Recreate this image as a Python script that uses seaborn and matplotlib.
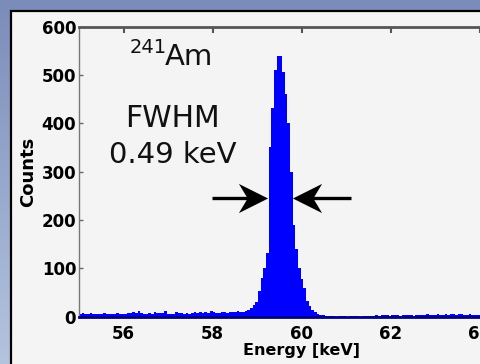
import numpy as np
import pandas as pd
import matplotlib
matplotlib.use("Agg")
import matplotlib.pyplot as plt
import seaborn as sns
from matplotlib.patches import Rectangle
from matplotlib.path import Path

# ---------------- data ----------------
energy_start_keV = 55.0
bin_width_keV = 0.06
counts_left = [6, 7, 6, 5, 7, 6, 6, 5, 6, 7,
               6, 5, 6, 6, 7, 6, 5, 6, 8, 7,
               9, 8, 12, 7, 6, 5, 7, 6, 9, 8,
               7, 8, 11, 6, 5, 6, 9, 7, 8, 6,
               7, 6, 8, 9, 7, 10, 8, 9, 8, 11,
               9, 8, 7, 9, 10, 8, 9, 10, 9, 11, 10]
counts_peak = [10, 12, 14, 17, 24, 31, 52, 80, 100, 131,
               351, 431, 510, 539, 539, 506, 461, 400, 300, 190,
               140, 100, 78, 58, 32, 22, 14, 10, 6, 4]
counts_right = [3, 2, 1, 2, 1, 0, 1, 2, 1, 0, 1, 2, 1, 1, 0, 2, 1, 2, 1,
                2, 3, 2, 3, 4, 3, 2, 3, 4, 3, 2, 3, 3, 4, 3, 2, 4, 3, 3, 4,
                5, 4, 3, 4, 5, 4, 3, 5, 4, 6, 5, 4, 6, 5, 4, 3, 5, 4, 3, 4,
                5, 4, 3, 4, 5]
counts = counts_left + counts_peak + counts_right
n_bins = len(counts)
bin_centers = energy_start_keV + bin_width_keV * (np.arange(n_bins) + 0.5)
df = pd.DataFrame({'energy': bin_centers, 'counts': np.asarray(counts, dtype=float)})

x_ticks = [56, 58, 60, 62, 64]
y_ticks = [0, 100, 200, 300, 400, 500, 600]

# FWHM markers (keV, counts)
fwhm_left_keV = 59.19
fwhm_right_keV = 59.83
half_max_counts = 246

# ---------------- figure ----------------
sns.set_theme(style="white")
plt.rcParams['font.family'] = ['DejaVu Sans']

W, H = 480, 364
fig = plt.figure(figsize=(W / 100, H / 100), dpi=100)

# background gradient
bg = fig.add_axes([0, 0, 1, 1], zorder=-10)
top_c = np.array([0x7b, 0x8c, 0xba]) / 255
bot_c = np.array([0xb4, 0xc4, 0xdf]) / 255
t = np.linspace(0, 1, 256)[:, None]
grad = top_c[None, None, :] * (1 - t[..., None]) + bot_c[None, None, :] * t[..., None]
grad = np.repeat(grad, 2, axis=1)
bg.imshow(grad, aspect='auto', extent=[0, 1, 0, 1], origin='upper')
bg.add_patch(Rectangle((11 / W, -0.1), 1.2, 1 - 11 / H + 0.1,
                       facecolor='#f4f4f4', edgecolor='#000000', linewidth=1.6))
bg.set_xlim(0, 1)
bg.set_ylim(0, 1)
bg.axis('off')

# main axes
ax_l, ax_r, ax_t, ax_b = 79, 524, 26.7, 316.5
ax = fig.add_axes([ax_l / W, 1 - ax_b / H, (ax_r - ax_l) / W, (ax_b - ax_t) / H])
ax.set_facecolor('#f4f4f4')

sns.histplot(data=df, x='energy', weights='counts',
             binwidth=bin_width_keV,
             binrange=(energy_start_keV, energy_start_keV + bin_width_keV * n_bins),
             element='step', fill=True, color='#0000ff', alpha=1.0,
             linewidth=0, ax=ax)

ax.set_xlim(55, 65)
ax.set_ylim(0, 600)
ax.set_xticks(x_ticks)
ax.set_yticks(y_ticks)
ax.set_xticklabels([str(v) for v in x_ticks], fontsize=12, fontweight='heavy', color='black')
ax.set_yticklabels([str(v) for v in y_ticks], fontsize=12, fontweight='heavy', color='black')
ax.tick_params(axis='x', which='both', bottom=False, top=True, direction='in',
               length=4, width=1.5, color='#555555', pad=6)
ax.tick_params(axis='y', which='both', left=True, right=False, direction='in',
               length=3, width=1, color='#666666', pad=2)

ax.spines['right'].set_visible(False)
ax.spines['top'].set_color('#555555')
ax.spines['top'].set_linewidth(2)
ax.spines['left'].set_color('#777777')
ax.spines['left'].set_linewidth(1)
ax.spines['bottom'].set_color('#000080')
ax.spines['bottom'].set_linewidth(2)

ax.set_xlabel('Energy [keV]', fontsize=11.5, fontweight='bold', color='black', labelpad=0)
ax.set_ylabel('Counts', fontsize=13, fontweight='bold', color='black', labelpad=3)

# annotations
ax.text(56.55, 556, '241', fontsize=14, ha='center', va='center', color='#111111')
ax.text(57.48, 538, 'Am', fontsize=21, ha='center', va='center', color='#111111')
ax.text(57.1, 410, 'FWHM', fontsize=21.5, ha='center', va='center', color='#111111')
ax.text(57.1, 335, '0.49 keV', fontsize=21, ha='center', va='center', color='#111111')

# arrows: shaft lines + stealth-shaped heads
head_right = Path([(0.5, 0.0), (-0.5, 0.5), (-0.2, 0.0), (-0.5, -0.5), (0.5, 0.0)],
                  [Path.MOVETO, Path.LINETO, Path.LINETO, Path.LINETO, Path.CLOSEPOLY])
head_left = Path([(-0.5, 0.0), (0.5, 0.5), (0.2, 0.0), (0.5, -0.5), (-0.5, 0.0)],
                 [Path.MOVETO, Path.LINETO, Path.LINETO, Path.LINETO, Path.CLOSEPOLY])
head_len_keV = 0.58  # ~26 px
ax.plot([57.98, fwhm_left_keV - 0.3], [half_max_counts] * 2, color='black', lw=2.4,
        solid_capstyle='butt')
ax.plot([61.12, fwhm_right_keV + 0.3], [half_max_counts] * 2, color='black', lw=2.4,
        solid_capstyle='butt')
ax.plot([fwhm_left_keV - head_len_keV / 2], [half_max_counts], marker=head_right,
        markersize=21, color='black', markeredgewidth=0, linestyle='none')
ax.plot([fwhm_right_keV + head_len_keV / 2], [half_max_counts], marker=head_left,
        markersize=21, color='black', markeredgewidth=0, linestyle='none')

fig.savefig('out.png', dpi=100)
